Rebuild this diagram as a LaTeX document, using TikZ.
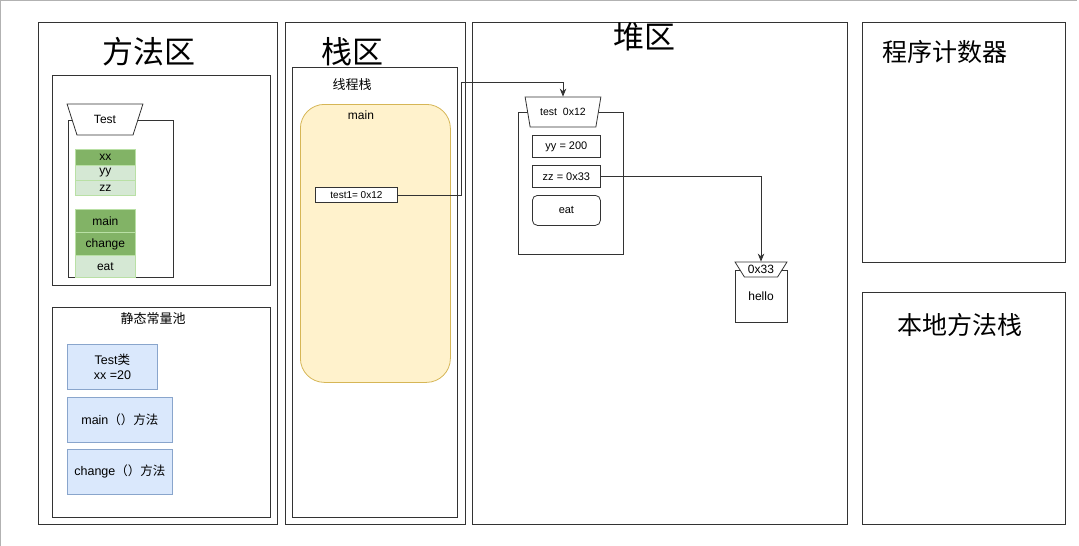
\documentclass[tikz,border=0pt]{standalone}
\usepackage{fontspec}
\setmainfont{Liberation Sans}
\newfontfamily\cjk{Noto Sans CJK SC}
\usetikzlibrary{shapes.geometric,arrows.meta}
\definecolor{dgreen}{HTML}{82B366}
\definecolor{lgreen}{HTML}{D5E8D4}
\definecolor{cellline}{HTML}{B9E0A5}
\definecolor{lblue}{HTML}{DAE8FC}
\definecolor{bblue}{HTML}{6C8EBF}
\definecolor{lyellow}{HTML}{FFF2CC}
\definecolor{byellow}{HTML}{D6B656}
\definecolor{frame}{HTML}{333333}
\begin{document}
\begin{tikzpicture}[x=1pt,y=-1pt,
  region/.style={draw=frame, line width=0.8pt, rectangle, inner sep=0pt, anchor=north west},
  bigtitle/.style={font=\cjk\fontsize{31}{34}\selectfont, inner sep=0pt},
  midtitle/.style={font=\cjk\fontsize{25}{28}\selectfont, inner sep=0pt},
  smalltitle/.style={font=\cjk\fontsize{13}{15}\selectfont, inner sep=0pt},
  cell/.style={draw=cellline, line width=0.8pt, rectangle, inner sep=0pt, anchor=north west,
    minimum width=60pt, font=\fontsize{12}{14}\selectfont},
  dcell/.style={cell, fill=dgreen},
  lcell/.style={cell, fill=lgreen},
  bluebox/.style={draw=bblue!80, fill=lblue, line width=0.8pt, rectangle, inner sep=0pt,
    anchor=north west, align=center, font=\fontsize{12.5}{15}\selectfont},
  fieldbox/.style={draw=frame, line width=0.8pt, rectangle, inner sep=0pt, anchor=north west,
    minimum width=68pt, minimum height=22pt, font=\fontsize{11}{13}\selectfont},
  hat/.style={draw=frame, fill=white, line width=0.8pt, trapezium, shape border rotate=180,
    trapezium stretches=true, inner sep=0pt},
  link/.style={draw=frame, line width=0.8pt},
  tip/.style={-{Stealth[length=8pt,width=6.5pt]}}
]
\useasboundingbox (0,0) rectangle (1079,546);
\draw[gray!60, line width=1pt] (0.5,546) -- (0.5,0.5) -- (1077,0.5);

% ---- 方法区 ----
\node[region, minimum width=239pt, minimum height=502pt] (ff) at (38,22) {};
\node[bigtitle] (fftitle) at (149,52) {方法区};
\node[region, minimum width=218pt, minimum height=210pt] (cls) at (52,75) {};
\node[region, minimum width=105pt, minimum height=157pt] (testbody) at (68,120) {};
\node[hat, minimum width=76pt, minimum height=31pt, trapezium angle=65,
  font=\fontsize{12}{14}\selectfont] (testhat) at (105,119.5) {Test};
\node[dcell, minimum height=16pt] (xx) at (75,149) {xx};
\node[lcell, minimum height=15pt] (yy) at (75,165) {yy};
\node[lcell, minimum height=15pt] (zz) at (75,180) {zz};
\node[dcell, minimum height=23pt] (mmain) at (75,209) {main};
\node[dcell, minimum height=23pt] (mchange) at (75,232) {change};
\node[lcell, minimum height=22pt] (meat) at (75,255) {eat};

\node[region, minimum width=218pt, minimum height=210pt] (pool) at (52,307) {};
\node[smalltitle] (pooltitle) at (153,319) {静态常量池};
\node[bluebox, minimum width=90pt, minimum height=45pt] (ptest) at (67,344) {Test{\cjk 类}\\xx =20};
\node[bluebox, minimum width=105pt, minimum height=45pt] (pmain) at (67,397) {main{\cjk （）方法}};
\node[bluebox, minimum width=105pt, minimum height=45pt] (pchange) at (67,449) {change{\cjk （）方法}};

% ---- 栈区 ----
\node[region, minimum width=180pt, minimum height=502pt] (zq) at (285,22) {};
\node[bigtitle] (zqtitle) at (352,52) {栈区};
\node[region, minimum width=165pt, minimum height=450pt] (thread) at (292,67) {};
\node[smalltitle] (threadtitle) at (352,85) {线程栈};
\node[draw=byellow, fill=lyellow, line width=0.8pt, rounded corners=24pt, rectangle,
  anchor=north west, minimum width=150pt, minimum height=278pt, inner sep=0pt] (frame) at (300,104) {};
\node[font=\fontsize{12}{14}\selectfont, inner sep=0pt] (frametitle) at (361,115) {main};
\node[draw=frame, fill=white, line width=0.8pt, rectangle, anchor=north west, inner sep=0pt,
  minimum width=82pt, minimum height=15pt, font=\fontsize{10}{12}\selectfont] (t1) at (315,187) {test1= 0x12};

% ---- 堆区 ----
\node[region, minimum width=375pt, minimum height=502pt] (dq) at (472,22) {};
\node[bigtitle] (dqtitle) at (644,37) {堆区};
\node[region, minimum width=105pt, minimum height=142pt] (objbody) at (518,112) {};
\node[hat, minimum width=76pt, minimum height=30pt, trapezium angle=65,
  font=\fontsize{10.5}{12}\selectfont] (objhat) at (563,112) {test\ \ 0x12};
\node[fieldbox] (fyy) at (532,135) {yy = 200};
\node[fieldbox] (fzz) at (532,165) {zz = 0x33};
\node[fieldbox, rounded corners=5pt, minimum height=30pt] (feat) at (532,195) {eat};
\node[region, minimum width=52pt, minimum height=52pt] (hellobody) at (735,270) {};
\node[font=\fontsize{12}{14}\selectfont, inner sep=0pt] (hellotext) at (761,296) {hello};
\node[hat, minimum width=52pt, minimum height=15pt, trapezium angle=49,
  font=\fontsize{12}{14}\selectfont] (hellohat) at (761,269.5) {0x33};

% ---- 程序计数器 / 本地方法栈 ----
\node[region, minimum width=203pt, minimum height=240pt] (pc) at (862,22) {};
\node[midtitle] (pctitle) at (945,52) {程序计数器};
\node[region, minimum width=203pt, minimum height=232pt] (nms) at (862,292) {};
\node[midtitle] (nmstitle) at (960,325) {本地方法栈};

% ---- connectors ----
\coordinate (bend) at (461,82);
\draw[link, tip] (t1.east) -| (bend) -| (objhat.north);
\draw[link, tip] (fzz.east) -| (hellohat.north);
\end{tikzpicture}
\end{document}
